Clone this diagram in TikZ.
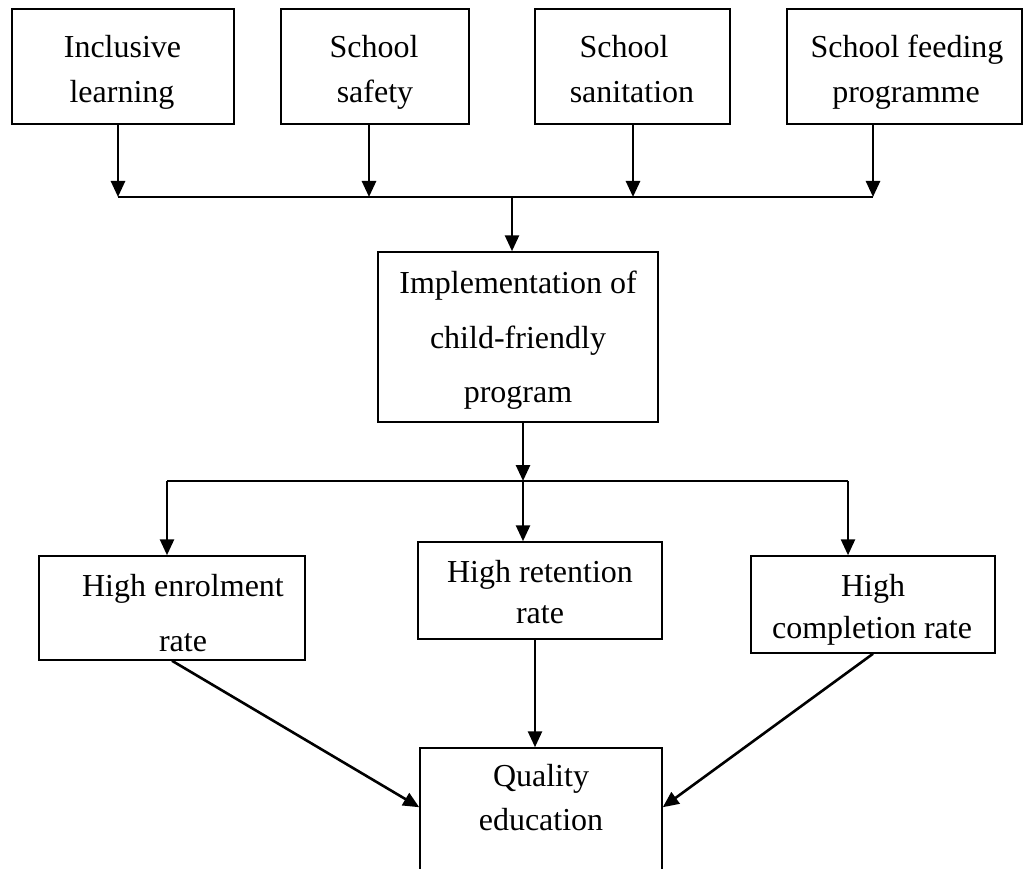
\documentclass[tikz,border=0pt]{standalone}
\usepackage{fontspec}
\setmainfont{Liberation Serif}
\usetikzlibrary{arrows.meta}
\begin{document}
\begin{tikzpicture}[x=1pt,y=-1pt,
  box/.style={draw,line width=1.5pt,inner sep=0pt,anchor=center},
  txt/.style={anchor=base,inner sep=0pt,font=\fontsize{32}{38}\selectfont},
  arr/.style={line width=2.6pt,-{Triangle[width=14pt,length=16pt]}},
  bus/.style={line width=1.8pt}]
\clip (0,0) rectangle (1030,869);
\fill[white] (0,0) rectangle (1030,869);
% top boxes
\node[box,minimum width=222pt,minimum height=115pt] (b1) at (123,66.5) {};
\node[box,minimum width=188pt,minimum height=115pt] (b2) at (375,66.5) {};
\node[box,minimum width=195pt,minimum height=115pt] (b3) at (632.5,66.5) {};
\node[box,minimum width=235pt,minimum height=115pt] (b4) at (904.5,66.5) {};
\node[txt] (t1a) at (122.5,58) {Inclusive};
\node[txt] (t1b) at (122,103) {learning};
\node[txt] (t2a) at (374,58) {School};
\node[txt] (t2b) at (375,103) {safety};
\node[txt] (t3a) at (624,58) {School};
\node[txt] (t3b) at (632,103) {sanitation};
\node[txt] (t4a) at (907,58) {School feeding};
\node[txt] (t4b) at (906,103) {programme};
% middle box
\node[box,minimum width=280pt,minimum height=170pt] (impl) at (518,337) {};
\node[txt] (tia) at (518,293) {Implementation of};
\node[txt] (tib) at (518,348) {child-friendly};
\node[txt] (tic) at (518,402) {program};
% outcome boxes
\node[box,minimum width=266pt,minimum height=104pt] (enr) at (172,608) {};
\node[box,minimum width=244pt,minimum height=97pt] (ret) at (540,590.5) {};
\node[box,minimum width=244pt,minimum height=97pt] (comp) at (873,604.5) {};
\node[txt] (tea) at (183,596) {High enrolment};
\node[txt] (teb) at (183,651) {rate};
\node[txt] (tra) at (540,582) {High retention};
\node[txt] (trb) at (540,623) {rate};
\node[txt] (tca) at (873,596) {High};
\node[txt] (tcb) at (872,638) {completion rate};
% quality box (cut off at bottom)
\node[box,minimum width=242pt,minimum height=172pt] (qual) at (541,834) {};
\node[txt] (tqa) at (541,786) {Quality};
\node[txt] (tqb) at (541,830) {education};
% junctions
\coordinate (j1) at (118,197);
\coordinate (j2) at (369,197);
\coordinate (j3) at (633,197);
\coordinate (j4) at (873,197);
\coordinate (jm) at (512,197);
\coordinate (k) at (523,481);
\coordinate (kl) at (167,481);
\coordinate (kr) at (848,481);
% top connectors
\draw[arr] (j1 |- b1.south) -- (j1);
\draw[arr] (j2 |- b2.south) -- (j2);
\draw[arr] (j3 |- b3.south) -- (j3);
\draw[arr] (j4 |- b4.south) -- (j4);
\draw[bus] (j1) -- (j4);
\draw[arr] (jm) -- (jm |- impl.north);
% middle connectors
\draw[arr] (k |- impl.south) -- (k);
\draw[bus] (kl) -- (kr);
\draw[arr] (k) -- (k |- ret.north);
\draw[arr] (kl) -- (kl |- enr.north);
\draw[arr] (kr) -- (kr |- comp.north);
% bottom connectors
\draw[arr] (enr.south) -- ([yshift=-60pt]qual.north west);
\draw[arr] ([xshift=-5pt]ret.south) -- ([xshift=-6pt]qual.north);
\draw[arr] (comp.south) -- ([yshift=-60pt]qual.north east);
\end{tikzpicture}
\end{document}
